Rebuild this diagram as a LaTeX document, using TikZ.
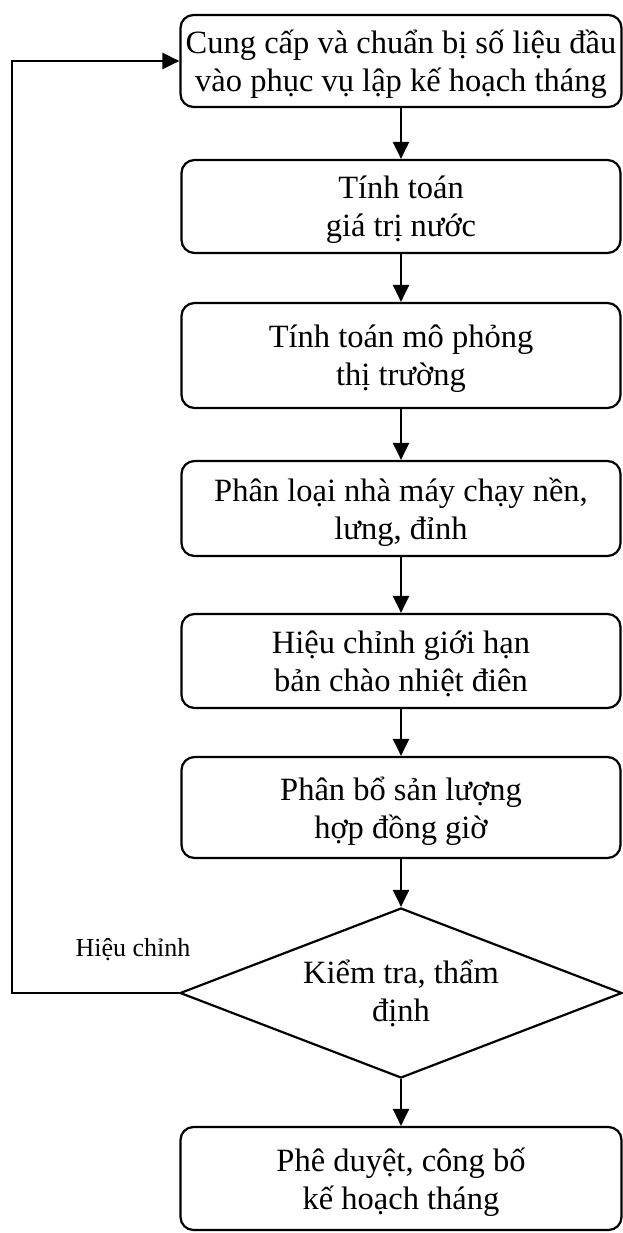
\documentclass[tikz,border=0pt]{standalone}
\usepackage{fontspec}
\setmainfont{Liberation Serif}
\usetikzlibrary{shapes.geometric,arrows.meta}
\begin{document}
\begin{tikzpicture}[x=1pt,y=-1pt,
  box/.style={draw, line width=2.2pt, rounded corners=13pt, align=center,
    font=\fontsize{32.5}{38}\selectfont, inner sep=0pt, text depth=0pt, yshift=0pt},
  decide/.style={draw, line width=2.2pt, diamond, shape aspect=2.6, align=center,
    font=\fontsize{32.5}{38}\selectfont, inner sep=0pt},
  arr/.style={line width=2.2pt, -{Triangle[width=16pt,length=17pt]}},
  lbl/.style={font=\fontsize{26}{30}\selectfont, inner sep=0pt}]
\useasboundingbox (0,0) rectangle (622,1233);
\node[box, minimum width=441pt, minimum height=92pt] (b1) at (401,61)
  {Cung cấp và chuẩn bị số liệu đầu\\vào phục vụ lập kế hoạch tháng};
\node[box, minimum width=439pt, minimum height=93pt] (b2) at (401,206.5)
  {Tính toán\\giá trị nước};
\node[box, minimum width=439pt, minimum height=105pt] (b3) at (401,355.5)
  {Tính toán mô phỏng\\thị trường};
\node[box, minimum width=439pt, minimum height=95pt] (b4) at (401,508.5)
  {Phân loại nhà máy chạy nền,\\lưng, đỉnh};
\node[box, minimum width=439pt, minimum height=94pt] (b5) at (401,661)
  {Hiệu chỉnh giới hạn\\bản chào nhiệt điên};
\node[box, minimum width=439pt, minimum height=101pt] (b6) at (401,807.5)
  {Phân bổ sản lượng\\hợp đồng giờ};
\node[decide, minimum width=442pt, minimum height=170pt] (dia) at (401,993)
  {Kiểm tra, thẩm\\định};
\node[box, minimum width=441pt, minimum height=103pt] (b7) at (401,1178.5)
  {Phê duyệt, công bố\\kế hoạch tháng};
\node[lbl] (hc) at (133,950) {Hiệu chỉnh};
\draw[arr] (b1.south) -- (b2.north);
\draw[arr] (b2.south) -- (b3.north);
\draw[arr] (b3.south) -- (b4.north);
\draw[arr] (b4.south) -- (b5.north);
\draw[arr] (b5.south) -- (b6.north);
\draw[arr] (b6.south) -- (dia.north);
\draw[arr] (dia.south) -- (b7.north);
\coordinate (fb) at (12,993);
\draw[arr] (dia.west) -- (fb) |- (b1.west);
\end{tikzpicture}
\end{document}
